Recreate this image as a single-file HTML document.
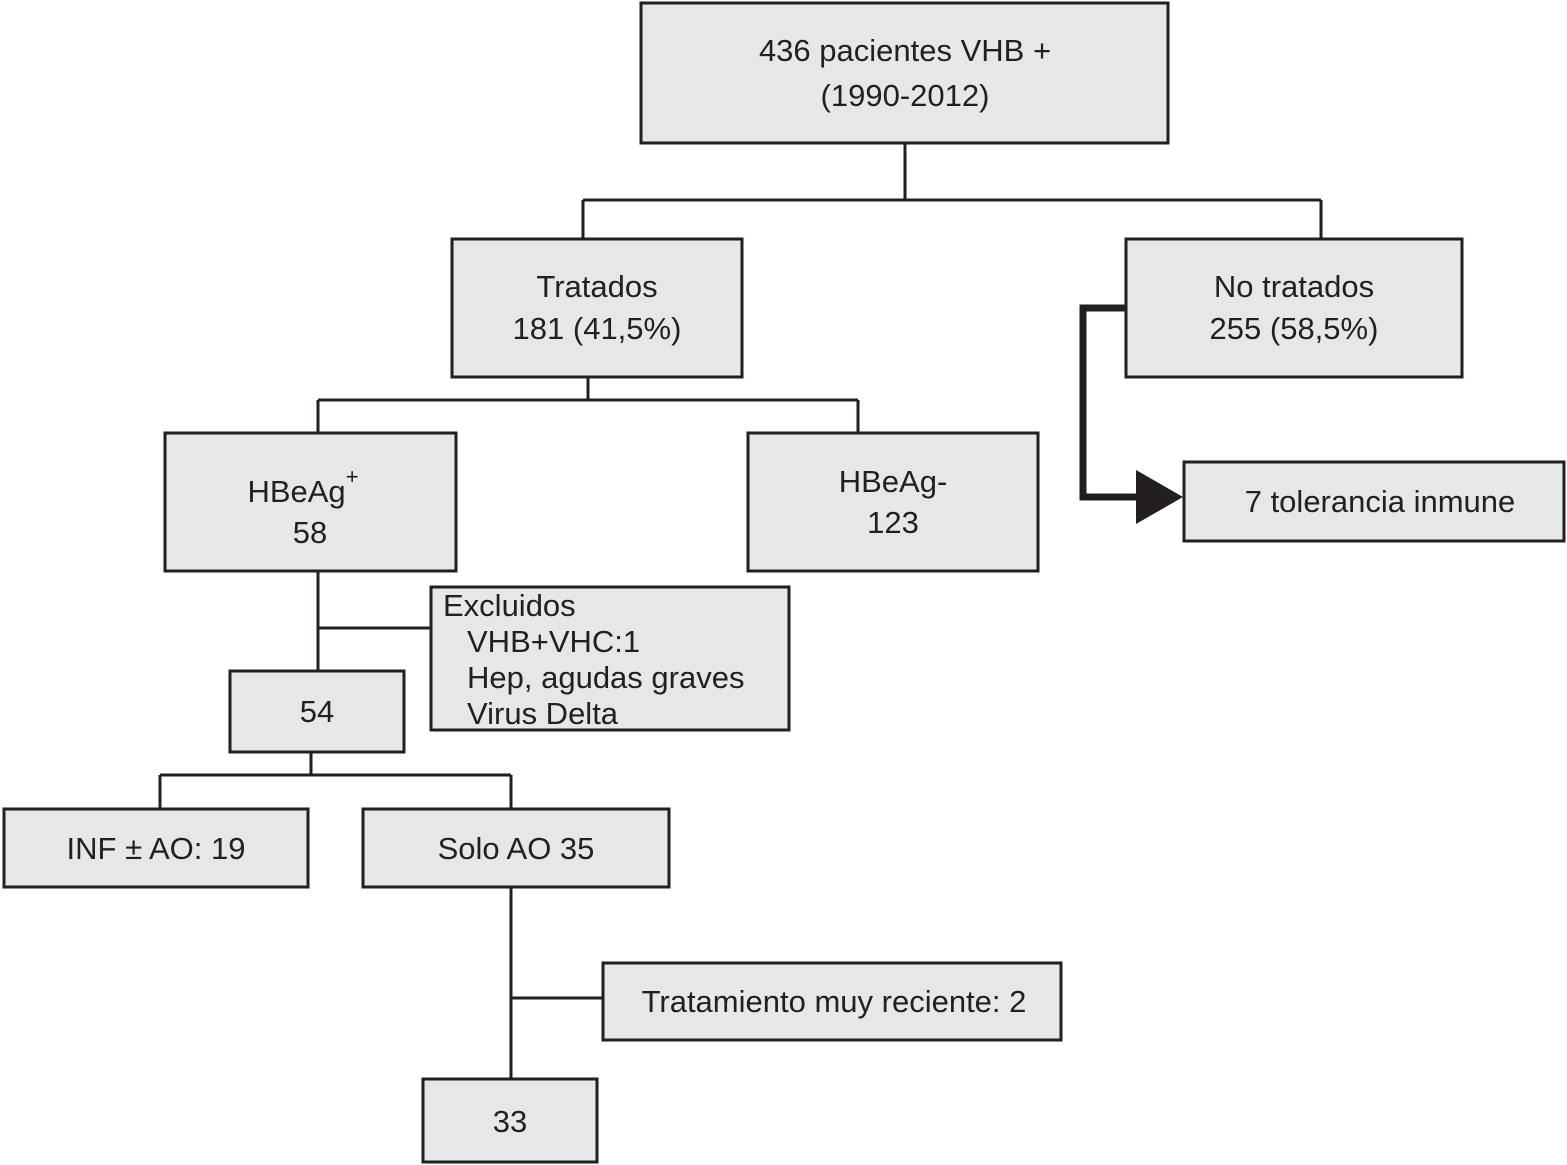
<!DOCTYPE html>
<html><head><meta charset="utf-8"><style>
html,body{margin:0;padding:0;background:#fff;}
svg{display:block;}
text{font-family:"Liberation Sans",Arial,sans-serif;font-size:31px;fill:#231f20;}
</style></head><body>
<svg width="1567" height="1165" viewBox="0 0 1567 1165" xmlns="http://www.w3.org/2000/svg">
<g fill="#e6e7e8" stroke="#231f20" stroke-width="3">
<rect x="641" y="3" width="527" height="140"/>
<rect x="452" y="239" width="290" height="138"/>
<rect x="1126" y="239" width="336" height="138"/>
<rect x="165" y="433" width="291" height="138"/>
<rect x="748" y="433" width="290" height="138"/>
<rect x="1184" y="462" width="380" height="79"/>
<rect x="431" y="587" width="358" height="143"/>
<rect x="230" y="671" width="174" height="81"/>
<rect x="4" y="809" width="304" height="78"/>
<rect x="363" y="809" width="306" height="78"/>
<rect x="603" y="963" width="458" height="77"/>
<rect x="423" y="1079" width="174" height="83"/>
</g>
<g fill="none" stroke="#231f20" stroke-width="3">
<path d="M905 144V200M583 200H1321M583 200V238M1321 200V238"/>
<path d="M588 378V400M318 400H858M318 400V432M858 400V432"/>
<path d="M318 572V670M318 628H430"/>
<path d="M311 753V775M160 775H511M160 775V808M511 775V808"/>
<path d="M511 888V1078M511 998H602"/>
</g>
<path d="M1125 308H1083V497H1140" fill="none" stroke="#231f20" stroke-width="7"/>
<polygon points="1136,470 1183,497 1136,524" fill="#231f20"/>
<g text-anchor="middle">
<text x="905" y="61">436 pacientes VHB +</text>
<text x="905" y="106">(1990-2012)</text>
<text x="597" y="297">Tratados</text>
<text x="597" y="339">181 (41,5%)</text>
<text x="1294" y="297">No tratados</text>
<text x="1294" y="339">255 (58,5%)</text>
<text x="303" y="502">HBeAg<tspan dy="-18" font-size="22">+</tspan></text>
<text x="310" y="543">58</text>
<text x="893" y="492">HBeAg-</text>
<text x="893" y="533">123</text>
<text x="1380" y="512">7 tolerancia inmune</text>
<text x="317" y="722">54</text>
<text x="156" y="859">INF ± AO: 19</text>
<text x="516" y="859">Solo AO 35</text>
<text x="834" y="1012">Tratamiento muy reciente: 2</text>
<text x="510" y="1132">33</text>
</g>
<text x="443" y="616">Excluidos</text>
<text x="467" y="652">VHB+VHC:1</text>
<text x="467" y="688">Hep, agudas graves</text>
<text x="467" y="724">Virus Delta</text>
</svg>
</body></html>
